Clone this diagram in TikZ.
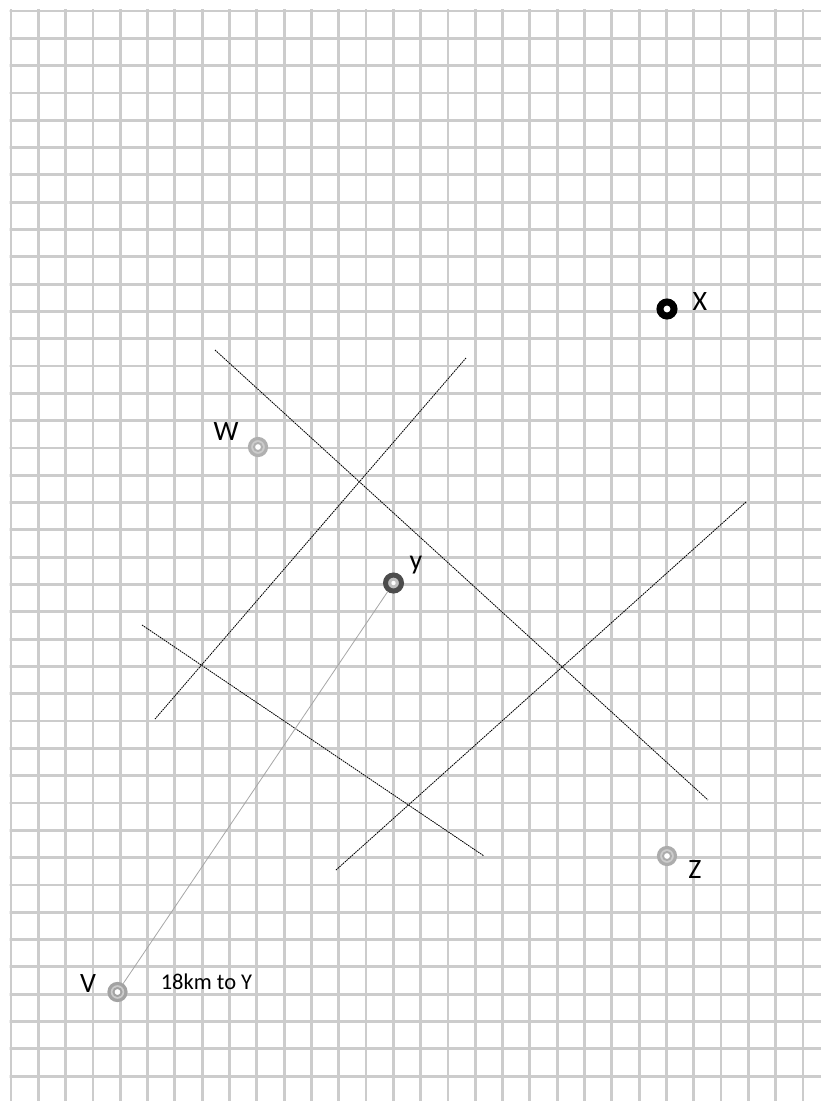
\documentclass[tikz,border=0pt]{standalone}
\usepackage{fontspec}
\setmainfont{Carlito}
\tikzset{
  gridline/.style={draw=gray!40, line width=2.8pt},
  cutline/.style={draw=black, line width=0.85pt, dash pattern=on 1.6pt off 0.8pt},
  grayring/.style={circle, inner sep=0pt, minimum size=17pt, line width=3.2pt, draw=gray!#1, fill=gray!40,
    path picture={\draw[gray!#1, line width=2pt] (path picture bounding box.center) circle (4pt);
      \fill[white] (path picture bounding box.center) circle (2.8pt);}},
  darkring/.style={circle, inner sep=0pt, minimum size=16pt, line width=5pt, draw=black!70, fill=gray!50,
    path picture={\fill[white] (path picture bounding box.center) circle (2.2pt);}},
  blackring/.style={circle, inner sep=0pt, minimum size=14pt, line width=7pt, draw=black, fill=white},
  lbl/.style={font=\fontsize{28}{32}\selectfont, inner sep=0pt, text=black},
  note/.style={font=\fontsize{22.5}{26}\selectfont, inner sep=0pt, text=black},
}
\begin{document}
\begin{tikzpicture}[x=1pt, y=-1pt]
\useasboundingbox (0,0) rectangle (821,1101);
\fill[white] (0,0) rectangle (821,1101);
% grid
\begin{scope}
\clip (9.6,9.6) rectangle (821,1101);
\foreach \i in {0,...,29} {
  \draw[gridline] ({11+27.31*\i},0) -- ({11+27.31*\i},1101);
}
\foreach \j in {0,...,39} {
  \draw[gridline] (0,{11+27.31*\j}) -- (821,{11+27.31*\j});
}
\end{scope}
% dashed lines
\coordinate (a1) at (215,350);
\coordinate (a2) at (708,800);
\coordinate (b1) at (466,358);
\coordinate (b2) at (155,719);
\coordinate (c1) at (142,625);
\coordinate (c2) at (484,856);
\coordinate (d1) at (746,502);
\coordinate (d2) at (336,870);
\draw[cutline] (a1) -- (a2);
\draw[cutline] (b1) -- (b2);
\draw[cutline] (c1) -- (c2);
\draw[cutline] (d1) -- (d2);
% points
\node[blackring] (X) at (667,309) {};
\node[grayring=62] (W) at (258,447) {};
\node[darkring] (Y) at (393.5,583) {};
\node[grayring=65] (Z) at (667,856) {};
\node[grayring=72] (V) at (117.5,992) {};
\draw[draw=gray!70, line width=0.8pt] (V) -- (Y);
% labels
\node[lbl] (lX) at (700,302) {X};
\node[lbl] (lW) at (226,432) {W};
\node[lbl] (lY) at (416,565) {y};
\node[lbl] (lZ) at (695,870) {Z};
\node[lbl] (lV) at (88,984) {V};
\node[note] (dist) at (206.5,982) {18km to Y};
\end{tikzpicture}
\end{document}
